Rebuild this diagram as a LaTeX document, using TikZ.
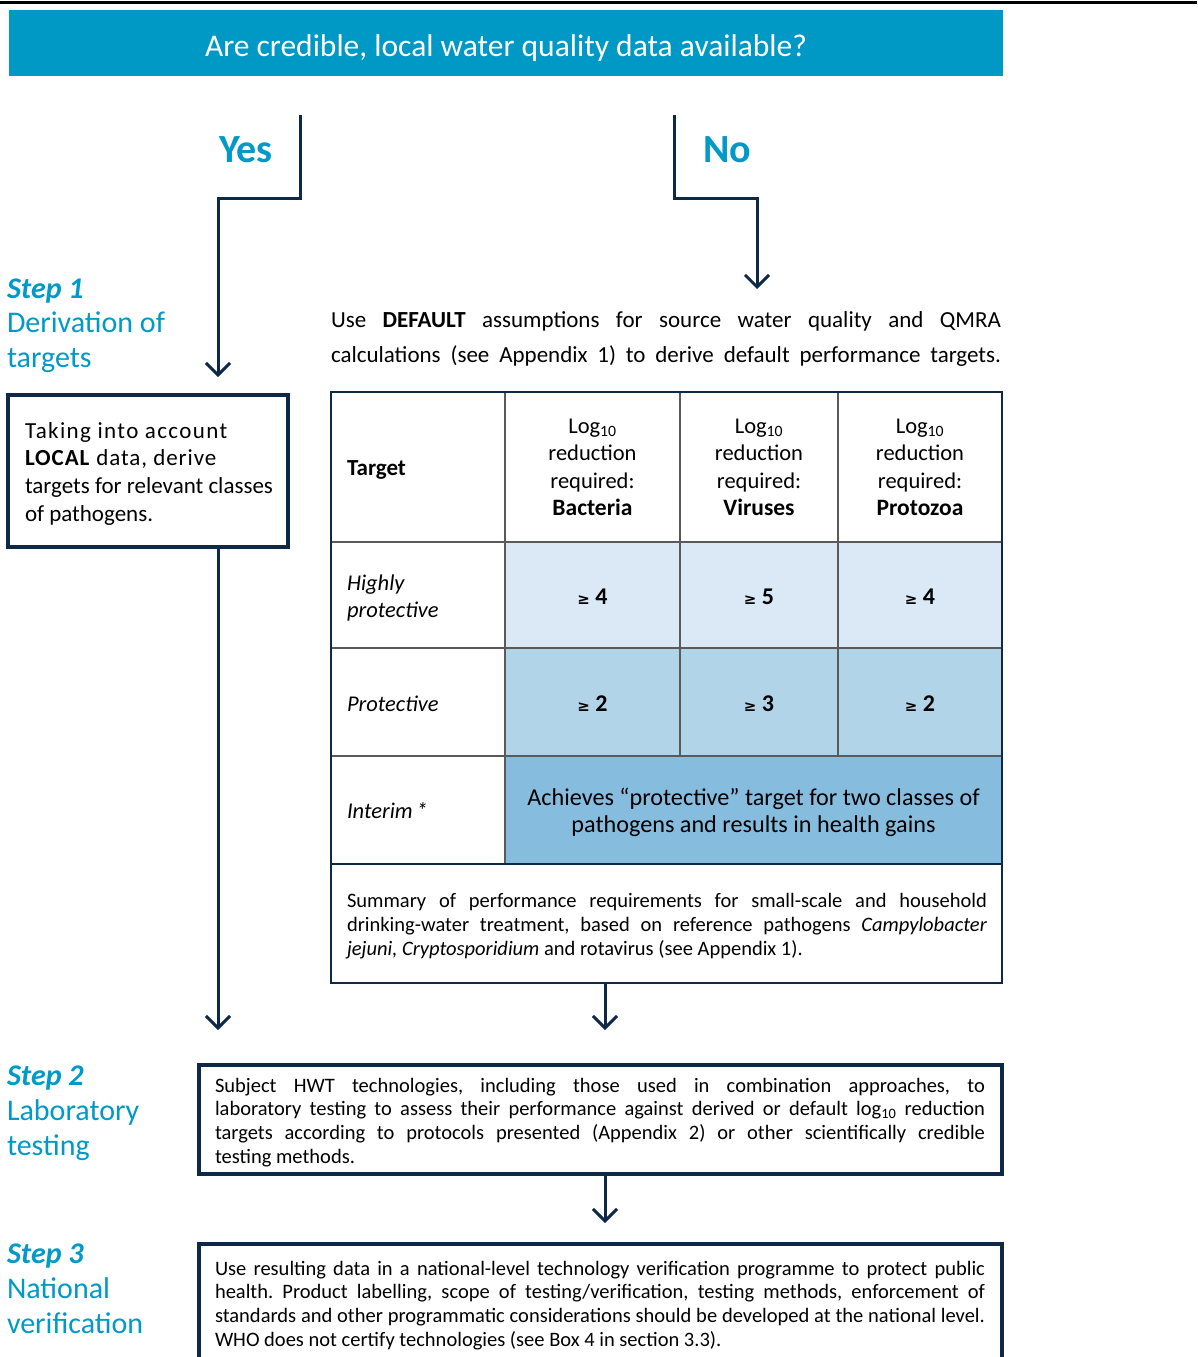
\documentclass[tikz,border=0pt]{standalone}
\usepackage{fontspec}
\setmainfont{Carlito}
\newfontfamily\dejavu{DejaVu Sans}
\usetikzlibrary{arrows.meta}
\definecolor{banner}{RGB}{0,152,197}
\definecolor{stepblue}{RGB}{0,153,200}
\definecolor{navy}{RGB}{14,40,72}
\definecolor{lightc}{RGB}{218,233,245}
\definecolor{midc}{RGB}{177,212,232}
\definecolor{darkc}{RGB}{134,189,222}
\definecolor{gridc}{RGB}{90,90,90}
\newcommand\fsz[2]{\fontsize{#1}{#2}\selectfont}
\newcommand\gq{{\dejavu\fsz{15}{15}≥}}
\frenchspacing
\begin{document}
\begin{tikzpicture}[x=1pt,y=-1pt,
  conn/.style={navy, line width=3pt},
  arr/.style={conn, -{Straight Barb[length=12pt,width=24pt]}},
  box/.style={draw=navy, line width=4pt, inner sep=0pt, outer sep=0pt, anchor=north west},
  cell/.style={draw=gridc, line width=1.2pt, inner sep=0pt, outer sep=0pt, anchor=north west},
  txt/.style={inner sep=0pt, outer sep=0pt, anchor=base west},
  ctxt/.style={inner sep=0pt, outer sep=0pt, anchor=base},
  stepl/.style={txt, text=stepblue},
]
\useasboundingbox (0,0) rectangle (1197,1357);
% top rule
\draw[black, line width=3.5pt] (0,2.5) -- (1197,2.5);
% banner
\node[fill=banner, minimum width=994pt, minimum height=66pt, inner sep=0pt, outer sep=0pt, anchor=north west] (banner) at (9,10) {};
\node[ctxt, text=white, font=\fsz{31.5}{36}] (q) at (506,56) {Are credible, local water quality data available?};
% yes / no
\node[ctxt, text=stepblue, font=\fsz{40}{40}\bfseries] (yes) at (246,162) {Yes};
\node[ctxt, text=stepblue, font=\fsz{40}{40}\bfseries] (no) at (727,162) {No};
\coordinate (ys) at (300,115);
\coordinate (ye) at (218,377);
\coordinate (ns) at (674,115);
\coordinate (ne) at (757,289);
\draw[arr] (ys) -- ++(0,83) -| (ye);
\draw[arr] (ns) -- ++(0,83) -| (ne);
% step labels
\node[stepl] (st1) at (7,298) {\parbox[t]{220pt}{\fsz{30}{34.5}{\bfseries\itshape Step 1}\\Derivation of\\targets}};
\node[stepl] (st2) at (7,1085) {\parbox[t]{180pt}{\fsz{30}{35}{\bfseries\itshape Step 2}\\Laboratory\\testing}};
\node[stepl] (st3) at (7,1263) {\parbox[t]{180pt}{\fsz{30}{35}{\bfseries\itshape Step 3}\\National\\verification}};
% local box
\node[box, minimum width=280pt, minimum height=152pt] (local) at (8,395) {};
\node[txt] (localtxt) at (25,438) {\parbox[t]{260pt}{\raggedright\fsz{23}{27.7}{\addfontfeature{LetterSpace=6}Taking into account}\\{\addfontfeature{LetterSpace=4}\textbf{LOCAL} data, derive}\\targets for relevant classes\\of pathogens.}};
% default text
\node[txt] (deftxt) at (331,327) {\parbox[t]{670pt}{\fsz{23}{35}\makebox[670pt][s]{Use \textbf{DEFAULT} assumptions for source water quality and QMRA}\\\makebox[670pt][s]{calculations (see Appendix 1) to derive default performance targets.}}};
% table cells
\node[cell, minimum width=174pt, minimum height=150pt] (hT) at (331,392) {};
\node[cell, minimum width=175pt, minimum height=150pt] (hB) at (505,392) {};
\node[cell, minimum width=158pt, minimum height=150pt] (hV) at (680,392) {};
\node[cell, minimum width=164pt, minimum height=150pt] (hP) at (838,392) {};
\node[cell, minimum width=174pt, minimum height=106pt] (aT) at (331,542) {};
\node[cell, fill=lightc, minimum width=175pt, minimum height=106pt] (aB) at (505,542) {};
\node[cell, fill=lightc, minimum width=158pt, minimum height=106pt] (aV) at (680,542) {};
\node[cell, fill=lightc, minimum width=164pt, minimum height=106pt] (aP) at (838,542) {};
\node[cell, minimum width=174pt, minimum height=108pt] (bT) at (331,648) {};
\node[cell, fill=midc, minimum width=175pt, minimum height=108pt] (bB) at (505,648) {};
\node[cell, fill=midc, minimum width=158pt, minimum height=108pt] (bV) at (680,648) {};
\node[cell, fill=midc, minimum width=164pt, minimum height=108pt] (bP) at (838,648) {};
\node[cell, minimum width=174pt, minimum height=108pt] (cT) at (331,756) {};
\node[cell, fill=darkc, minimum width=497pt, minimum height=108pt] (cI) at (505,756) {};
\node[cell, minimum width=671pt, minimum height=119pt] (sum) at (331,864) {};
\draw[navy, line width=2.5pt] (hT.north west) rectangle (sum.south east);
\draw[navy, line width=2.5pt] (sum.north west) -- (sum.north east);
% table texts
\node[txt, font=\fsz{23}{23}\bfseries] (tTarget) at (347,475) {Target};
\node[ctxt] (tB) at (592.5,433) {\parbox[t]{170pt}{\centering\fsz{22.5}{27.6}Log\textsubscript{10}\\reduction\\required:\\{\bfseries\fsz{23.5}{27.6}Bacteria}}};
\node[ctxt] (tV) at (759,433) {\parbox[t]{155pt}{\centering\fsz{22.5}{27.6}Log\textsubscript{10}\\reduction\\required:\\{\bfseries\fsz{23.5}{27.6}Viruses}}};
\node[ctxt] (tP) at (920,433) {\parbox[t]{160pt}{\centering\fsz{22.5}{27.6}Log\textsubscript{10}\\reduction\\required:\\{\bfseries\fsz{23.5}{27.6}Protozoa}}};
\node[txt] (tHP) at (347,590) {\parbox[t]{150pt}{\itshape\fsz{22.5}{27}Highly\\protective}};
\node[txt, font=\fsz{22.5}{27}\itshape] (tPr) at (347,711) {Protective};
\node[txt, font=\fsz{22.5}{27}\itshape] (tIn) at (347,818) {Interim\,*};
\node[ctxt, font=\fsz{24}{24}\bfseries] (v1) at (592.5,604) {\gq\ 4};
\node[ctxt, font=\fsz{24}{24}\bfseries] (v2) at (759,604) {\gq\ 5};
\node[ctxt, font=\fsz{24}{24}\bfseries] (v3) at (920,604) {\gq\ 4};
\node[ctxt, font=\fsz{24}{24}\bfseries] (v4) at (592.5,711) {\gq\ 2};
\node[ctxt, font=\fsz{24}{24}\bfseries] (v5) at (759,711) {\gq\ 3};
\node[ctxt, font=\fsz{24}{24}\bfseries] (v6) at (920,711) {\gq\ 2};
\node[ctxt] (tInt) at (753.5,805) {\parbox[t]{490pt}{\centering\fsz{24.2}{27}Achieves ``protective'' target for two classes of\\pathogens and results in health gains}};
\node[txt] (tSum) at (347,907) {\parbox[t]{640pt}{\fsz{20.5}{24}\makebox[640pt][s]{Summary of performance requirements for small-scale and household}\\\makebox[640pt][s]{drinking-water treatment, based on reference pathogens \textit{Campylobacter}}\\\textit{jejuni, Cryptosporidium} and rotavirus (see Appendix 1).}};
% arrows from left box and table
\coordinate (la) at (218,1030);
\draw[arr] (local.south -| la) -- (la);
\coordinate (a2) at (605,1030);
\draw[arr] (sum.south -| a2) -- (a2);
% step 2 box
\node[box, minimum width=803pt, minimum height=109pt] (s2) at (199,1065) {};
\node[txt] (s2txt) at (215,1092) {\parbox[t]{770pt}{\fsz{20.5}{23.8}\makebox[770pt][s]{Subject HWT technologies, including those used in combination approaches, to}\\\makebox[770pt][s]{laboratory testing to assess their performance against derived or default log\textsubscript{10} reduction}\\\makebox[770pt][s]{targets according to protocols presented (Appendix 2) or other scientifically credible}\\testing methods.}};
\coordinate (a3) at (605,1223);
\draw[arr] (s2.south -| a3) -- (a3);
% step 3 box
\node[box, minimum width=803pt, minimum height=140pt] (s3) at (199,1244) {};
\node[txt] (s3txt) at (215,1275) {\parbox[t]{770pt}{\fsz{20.5}{23.8}\makebox[770pt][s]{Use resulting data in a national-level technology verification programme to protect public}\\\makebox[770pt][s]{health. Product labelling, scope of testing/verification, testing methods, enforcement of}\\\makebox[770pt][s]{standards and other programmatic considerations should be developed at the national level.}\\WHO does not certify technologies (see Box 4 in section 3.3).}};
\end{tikzpicture}
\end{document}
